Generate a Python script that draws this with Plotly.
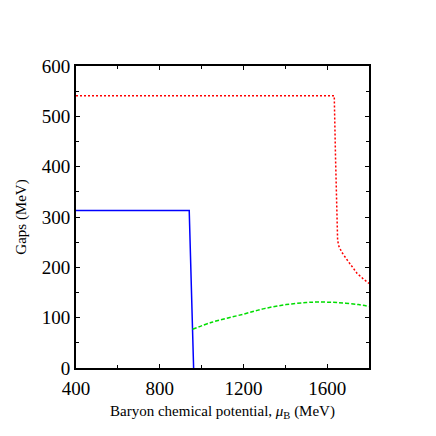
import plotly.graph_objects as go

# Data
red_x = [400, 1000, 1634, 1640, 1646, 1650, 1656, 1670, 1697, 1720, 1743, 1770, 1800]
red_y = [541, 541, 541, 420, 300, 254, 242, 230, 214, 200, 188, 178, 168]

blue_x = [400, 700, 941, 962]
blue_y = [313, 313, 313, 0]

green_x = [957, 1050, 1200, 1300, 1404, 1500, 1558, 1650, 1750, 1800]
green_y = [77, 91, 107, 118, 126, 130, 131, 130, 126, 122]

x_ticks = [400, 800, 1200, 1600]
y_ticks = [0, 100, 200, 300, 400, 500, 600]

fig = go.Figure()
fig.add_trace(go.Scatter(x=red_x, y=red_y, mode="lines",
                         line=dict(color="#ff0000", width=1.5, dash="2px,2px")))
fig.add_trace(go.Scatter(x=blue_x, y=blue_y, mode="lines",
                         line=dict(color="#0000ff", width=1.5)))
fig.add_trace(go.Scatter(x=green_x, y=green_y, mode="lines",
                         line=dict(color="#00dd00", width=1.5, dash="4px,2px",
                                   shape="spline", smoothing=1.0)))

axis_font = dict(family="Liberation Serif", size=19, color="black")
fig.update_layout(
    width=428, height=428,
    margin=dict(l=58, r=67, t=58, b=68),
    paper_bgcolor="white", plot_bgcolor="white",
    showlegend=False,
    font=dict(family="Liberation Serif", color="black"),
    xaxis=dict(range=[400, 1800], tickvals=x_ticks, ticks="inside", ticklen=4,
               tickcolor="black", tickfont=axis_font, showgrid=False, zeroline=False,
               showline=True, linecolor="black", linewidth=2, mirror="allticks",
               ticklabelstandoff=2,
               minor=dict(dtick=200, ticks="inside", ticklen=3, tickcolor="black"),
               title=dict(text="Baryon chemical potential, <i>μ</i><sub>B</sub> (MeV)",
                          font=dict(family="Liberation Serif", size=15), standoff=8)),
    yaxis=dict(range=[0, 600], tickvals=y_ticks, ticks="inside", ticklen=4,
               tickcolor="black", tickfont=axis_font, showgrid=False, zeroline=False,
               showline=True, linecolor="black", linewidth=2, mirror="allticks",
               minor=dict(dtick=50, ticks="inside", ticklen=3, tickcolor="black"),
               title=dict(text="Gaps (MeV)",
                          font=dict(family="Liberation Serif", size=15), standoff=11)),
)
fig.write_html("out.html")
